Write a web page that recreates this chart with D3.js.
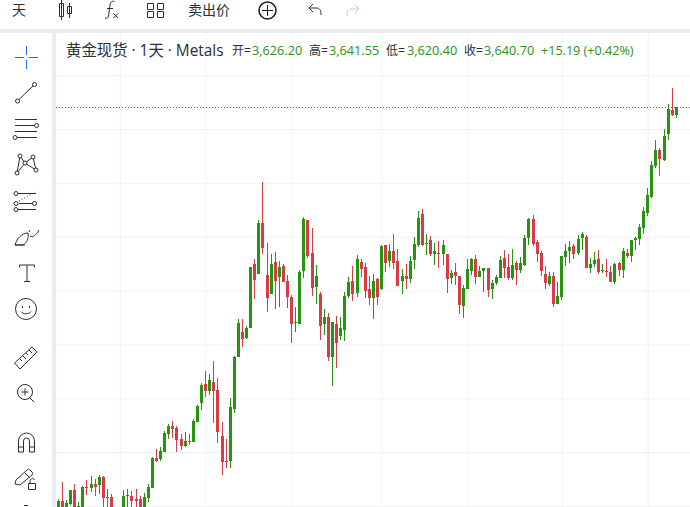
<!DOCTYPE html>
<html>
<head>
<meta charset="utf-8">
<style>
  html, body { margin: 0; padding: 0; background: #fff; overflow: hidden; }
  text { font-family: "Open Sans", "Noto Sans CJK SC", sans-serif; }
</style>
</head>
<body>
<div id="chart"></div>
<script src="https://cdn.jsdelivr.net/npm/d3@7/dist/d3.min.js"></script>
<script>
// Daily candles. The ones low on the left run past the bottom edge.
var opens = [2889,2909,2883,2904,2930,2883,2883,2935,2933,2941,2939,2954,2915,2917,2889,2874,2889,2919,2919,2913,2913,2893,2915,2933,2989,2987,3000,3034,3048,3045,3024,3011,3021,3019,3056,3091,3126,3113,3130,3115,3030,2983,2983,3080,3177,3223,3212,3230,3349,3331,3425,3329,3294,3353,3325,3346,3318,3288,3240,3238,3336,3431,3370,3307,3294,3238,3251,3177,3238,3216,3227,3290,3318,3295,3353,3344,3303,3286,3321,3303,3385,3355,3373,3355,3318,3327,3321,3357,3385,3442,3386,3394,3368,3370,3368,3368,3323,3334,3327,3271,3303,3336,3359,3325,3336,3342,3303,3314,3323,3360,3344,3323,3351,3338,3347,3398,3433,3390,3370,3331,3312,3327,3275,3288,3362,3373,3383,3370,3398,3399,3342,3349,3359,3336,3336,3334,3316,3351,3338,3370,3364,3394,3396,3416,3444,3474,3531,3561,3542,3591,3635,3626.20];
var highs = [2913,2944,2911,2930,2941,2907,2937,2948,2956,2950,2957,2956,2931,2922,2893,2896,2930,2931,2928,2931,2919,2924,2941,2991,3006,3009,3039,3052,3058,3048,3034,3037,3034,3061,3087,3128,3151,3145,3169,3138,3056,3024,3100,3178,3247,3247,3234,3344,3359,3431,3502,3388,3368,3372,3355,3349,3329,3292,3269,3338,3437,3431,3416,3347,3297,3266,3258,3242,3253,3251,3297,3325,3346,3366,3359,3351,3327,3331,3323,3385,3385,3386,3405,3377,3340,3349,3364,3399,3448,3451,3405,3401,3388,3392,3394,3368,3338,3351,3327,3310,3359,3360,3366,3346,3342,3342,3320,3329,3364,3375,3368,3377,3355,3362,3403,3435,3440,3394,3373,3346,3334,3334,3316,3364,3386,3392,3386,3403,3409,3403,3360,3372,3375,3349,3359,3346,3351,3353,3379,3377,3394,3399,3424,3455,3490,3541,3580,3565,3600,3646,3676,3641.55];
var lows = [2883,2874,2878,2902,2874,2878,2881,2920,2926,2919,2922,2893,2893,2881,2866,2870,2885,2893,2893,2893,2889,2889,2907,2933,2982,2983,3000,3024,3026,3000,3004,3009,3013,3019,3056,3078,3102,3106,3054,3017,2957,2970,2970,3073,3177,3195,3210,3230,3284,3331,3368,3260,3294,3266,3269,3316,3268,3203,3223,3238,3323,3360,3290,3275,3208,3218,3169,3123,3156,3208,3206,3286,3281,3288,3325,3286,3273,3247,3273,3301,3334,3344,3340,3308,3294,3303,3314,3340,3381,3383,3366,3364,3347,3342,3347,3295,3312,3310,3257,3249,3303,3329,3312,3325,3297,3288,3284,3310,3323,3323,3320,3320,3310,3333,3346,3385,3383,3353,3327,3303,3308,3269,3275,3282,3346,3351,3359,3366,3375,3342,3333,3344,3331,3333,3325,3316,3312,3327,3323,3360,3353,3375,3385,3405,3438,3472,3528,3513,3541,3580,3624,3620.40];
var closes = [2909,2883,2906,2930,2883,2900,2935,2933,2941,2935,2954,2915,2917,2889,2874,2889,2919,2920,2909,2909,2893,2917,2935,2989,2983,3002,3035,3048,3043,3022,3011,3021,3019,3058,3086,3125,3113,3134,3113,3037,2982,2982,3083,3177,3240,3210,3230,3344,3320,3425,3379,3286,3349,3318,3344,3316,3288,3238,3242,3334,3433,3364,3305,3327,3234,3251,3177,3242,3203,3230,3290,3316,3294,3359,3340,3299,3286,3318,3288,3383,3351,3373,3351,3308,3327,3321,3355,3386,3435,3385,3388,3368,3373,3368,3385,3321,3333,3327,3273,3305,3340,3359,3325,3336,3342,3301,3314,3325,3357,3342,3323,3347,3338,3351,3398,3433,3386,3368,3336,3314,3327,3275,3290,3364,3373,3381,3368,3396,3405,3342,3349,3357,3334,3338,3334,3316,3349,3338,3373,3364,3394,3398,3418,3448,3477,3533,3561,3544,3587,3637,3625.51,3640.70];

var priceTicks = [2900,3000,3100,3200,3300,3400,3500,3600,3700];
var monthStarts = [15,36,57,79,100,123,144];

var titleText = "黄金现货 · 1天 · Metals";
var ohlcLabels = ["开=","高=","低=","收="];
var ohlcValues = ["3,626.20","3,641.55","3,620.40","3,640.70"];
var changeText = "+15.19 (+0.42%)";
var lastClose = 3640.70;

var svgWidth = 690;
var svgHeight = 507;
var green = "#26940e";
var red = "#d83a46";
var inkColor = "#2a2e39";

var svg = d3.select("#chart")
  .append("svg")
  .attr("width", svgWidth)
  .attr("height", svgHeight)
  .style("display", "block");

// page frame: grey gutters between toolbars and the chart pane
svg.append("rect").attr("width", svgWidth).attr("height", svgHeight).attr("fill", "#fff");
svg.append("rect").attr("x", 0).attr("y", 29).attr("width", svgWidth).attr("height", 4).attr("fill", "#e9edf3");
svg.append("rect").attr("x", 52).attr("y", 29).attr("width", 4).attr("height", svgHeight).attr("fill", "#e9edf3");
svg.append("path").attr("d", "M52,33h3a3,3 0 0 0 -3,3z M56,33v3a3,3 0 0 1 3,-3z").attr("fill", "#e9edf3");

// scales
var xScale = d3.scaleLinear().domain([0, opens.length - 1]).range([58.3, 676.3]);
var yScale = d3.scaleLinear().domain([3600, 2900]).range([129, 506]);

var gridGroup = svg.append("g").attr("class", "grid");

var priceAxis = d3.axisLeft(yScale)
  .tickValues(priceTicks)
  .tickSize(-(svgWidth - 56))
  .tickFormat("");

gridGroup.append("g")
  .attr("transform", "translate(56, 0)")
  .call(priceAxis)
  .call(function(g) { g.select(".domain").remove(); })
  .selectAll("line")
  .attr("stroke", "#f0f2f6");

var timeAxis = d3.axisTop(xScale)
  .tickValues(monthStarts)
  .tickSize(-(svgHeight - 33))
  .tickFormat("");

gridGroup.append("g")
  .attr("transform", "translate(0, 33)")
  .call(timeAxis)
  .call(function(g) { g.select(".domain").remove(); })
  .selectAll("line")
  .attr("stroke", "#f0f2f6");

// candles
var candleGroup = svg.append("g").attr("shape-rendering", "crispEdges");

var candles = d3.range(opens.length).map(function(i) {
  return { i: i, o: opens[i], h: highs[i], l: lows[i], c: closes[i] };
});

function candleColor(d) {
  return d.c >= d.o ? green : red;
}

candleGroup.selectAll(".wick")
  .data(candles)
  .enter()
  .append("rect")
  .attr("class", "wick")
  .attr("x", function(d) { return Math.floor(xScale(d.i)); })
  .attr("y", function(d) { return Math.round(yScale(d.h)); })
  .attr("width", 1)
  .attr("height", function(d) { return Math.max(1, Math.round(yScale(d.l)) - Math.round(yScale(d.h))); })
  .attr("fill", candleColor);

candleGroup.selectAll(".body")
  .data(candles)
  .enter()
  .append("rect")
  .attr("class", "body")
  .attr("x", function(d) { return Math.floor(xScale(d.i)) - 1; })
  .attr("y", function(d) { return Math.round(yScale(Math.max(d.o, d.c))); })
  .attr("width", 3)
  .attr("height", function(d) {
    return Math.max(1, Math.round(yScale(Math.min(d.o, d.c))) - Math.round(yScale(Math.max(d.o, d.c))));
  })
  .attr("fill", candleColor);

// last price line
svg.append("line")
  .attr("x1", 56)
  .attr("x2", svgWidth)
  .attr("y1", Math.round(yScale(lastClose)) + 0.5)
  .attr("y2", Math.round(yScale(lastClose)) + 0.5)
  .attr("stroke", green)
  .attr("stroke-dasharray", "1,2");

// legend
svg.append("text")
  .attr("x", 66)
  .attr("y", 56)
  .attr("font-size", "15.4px")
  .attr("fill", inkColor)
  .text(titleText);

var labelX = [232, 309, 386, 464];
var valueX = [252, 329, 407, 484];

svg.selectAll(".ohlc-label")
  .data(ohlcLabels)
  .enter()
  .append("text")
  .attr("class", "ohlc-label")
  .attr("x", function(d, i) { return labelX[i]; })
  .attr("y", 55)
  .attr("font-size", "12px")
  .attr("fill", inkColor)
  .text(function(d) { return d; });

svg.selectAll(".ohlc-value")
  .data(ohlcValues)
  .enter()
  .append("text")
  .attr("class", "ohlc-value")
  .attr("x", function(d, i) { return valueX[i]; })
  .attr("y", 55)
  .attr("font-size", "12.7px")
  .attr("fill", green)
  .text(function(d) { return d; });

svg.append("text")
  .attr("x", 541)
  .attr("y", 55)
  .attr("font-size", "12.6px")
  .attr("fill", green)
  .text(changeText);

function drawIcon(parent, d, color) {
  parent.append("path")
    .attr("d", d)
    .attr("fill", "none")
    .attr("stroke", color || inkColor)
    .attr("stroke-width", 1);
}

function drawHandle(parent, x, y) {
  parent.append("circle")
    .attr("cx", x).attr("cy", y).attr("r", 2)
    .attr("fill", "#fff")
    .attr("stroke", inkColor);
}

function drawRing(parent, x, y, r, width, color) {
  parent.append("circle")
    .attr("cx", x).attr("cy", y).attr("r", r)
    .attr("fill", "none")
    .attr("stroke", color || inkColor)
    .attr("stroke-width", width || 1);
}

// top toolbar
var topBar = svg.append("g");

topBar.append("text").attr("x", 12).attr("y", 15).attr("font-size", "14px").attr("fill", inkColor).text("天");
topBar.append("text").attr("x", 188).attr("y", 15).attr("font-size", "14px").attr("fill", inkColor).text("卖出价");

drawIcon(topBar, "M61.5,0v20 M59.5,3.5h4v13h-4z M69.5,3v15 M67.5,6.5h4v7h-4z");
drawIcon(topBar, "M105,18c2,1 3,0 3.5,-2l1.5,-11c.5,-3 2,-4.5 4.5,-3.5 M107,8.5h6");
drawIcon(topBar, "M113.5,13.5l4.5,4.5 M118,13.5l-4.5,4.5");
drawIcon(topBar, "M147.5,3.5h6v6h-6z M157.5,3.5h6v6h-6z M147.5,11.5h6v6h-6z M157.5,11.5h6v6h-6z");
drawRing(topBar, 267.5, 10.5, 8.5, 1.5, "#131722");
drawIcon(topBar, "M267.5,5v11 M262,10.5h11", "#131722");
drawIcon(topBar, "M313,4l-4,4l4,4 M309,8h7c4,0 5,2 5,7", inkColor);
drawIcon(topBar, "M355,5l4,4l-4,4 M359,9h-7c-4,0 -5,2 -5,7", "#c4c7ce");

// left toolbar
var sideBar = svg.append("g");

drawIcon(sideBar, "M26.5,46v9 M26.5,60v9 M15,57.5h9 M29,57.5h9", "#2962ff");

drawIcon(sideBar, "M19,99.5L33,86");
drawHandle(sideBar, 17.5, 101);
drawHandle(sideBar, 34.5, 84.5);

drawIcon(sideBar, "M15,119.5h22 M15,125.5h22 M15,131.5h22 M17,137.5h20");
drawHandle(sideBar, 36.5, 125.5);
drawHandle(sideBar, 15, 137.5);

drawIcon(sideBar, "M20,156L25,163L33,157L36,170L25,163L17,173L20,156");
drawHandle(sideBar, 20, 156);
drawHandle(sideBar, 33, 157);
drawHandle(sideBar, 25, 163);
drawHandle(sideBar, 17, 173);
drawHandle(sideBar, 36, 170);

drawIcon(sideBar, "M18,193.5h18 M18,209.5h18 M19,203.5h14");
sideBar.append("path").attr("d", "M19,201L35,192").attr("stroke", inkColor).attr("stroke-dasharray", "1,2").attr("fill", "none");
drawHandle(sideBar, 16, 193.5);
drawHandle(sideBar, 16, 203.5);
drawHandle(sideBar, 34.5, 203.5);
drawHandle(sideBar, 16, 209.5);

drawIcon(sideBar, "M15,245c2,-7 7,-12 13,-12c1,5 -1,10 -5,12z M15,245h10 M30,236c3,2 6,-1 9,-6 M29,232l1,-2");

drawIcon(sideBar, "M19.5,267.5v-2.5h15v2.5 M27,265v16.5 M24,281.5h6");

drawRing(sideBar, 26, 309, 10.5);
drawIcon(sideBar, "M22.5,306v2 M29.5,306v2 M21,311.5c2,3 8,3 10,0");

drawIcon(sideBar, "M14.5,363L32,347l5,5L20,369z M20,359l2,2 M23,356l3,3 M26,353l2,2 M29,350l3,3");

drawRing(sideBar, 25, 392, 7.5);
drawIcon(sideBar, "M25,388.5v7 M21.5,392h7 M30,398l4,4");

drawIcon(sideBar, "M18.5,452V441a8,8 0 0 1 16,0v11h-5V441a3,3 0 0 0 -6,0v11z M18.5,447h5 M29.5,447h5");

drawIcon(sideBar, "M15,484l1,-4L27,470c1,-1 2,-1 3,0l2,2c1,1 1,2 0,3L20,485z M24.5,472.5l5,5");
drawIcon(sideBar, "M28.5,483.5h7v6h-7z M30,483.5v-2.5c0,-3 4,-3 4.5,-1");

drawIcon(sideBar, "M24,505.5h4");
</script>
</body>
</html>
